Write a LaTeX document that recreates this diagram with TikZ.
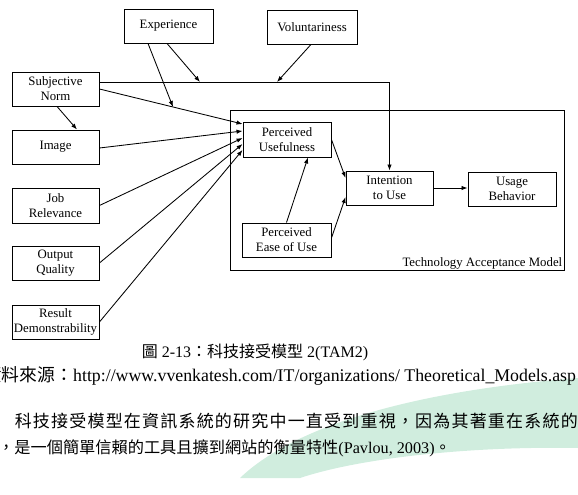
\documentclass[tikz,border=0pt]{standalone}
\usepackage{fontspec}
\setmainfont{Liberation Serif}
\newfontfamily\cjk{Noto Sans CJK TC}
\usetikzlibrary{arrows.meta}
\definecolor{wmgreen}{RGB}{208,237,222}
\newdimen\cwd
\def\charrow#1{\cjk\spl#1\relax}
\def\spl#1{\ifx\relax#1\else\hbox to \cwd{\hss#1\hss}\expandafter\spl\fi}
\begin{document}
\begin{tikzpicture}[x=1pt,y=-1pt,
  box/.style={draw,line width=0.9pt,align=center,inner sep=0pt,
    font=\fontsize{12.8}{15}\selectfont},
  arr/.style={line width=0.85pt,-{Latex[length=6pt,width=4.4pt]}},
  ln/.style={line width=0.85pt},
  txt/.style={inner sep=0pt,font=\fontsize{17}{20}\selectfont}]
\useasboundingbox (0,0) rectangle (578,495);
% watermark swoosh
\fill[wmgreen] (240,478) .. controls (290,430) and (400,392) .. (578,378)
  -- (578,448) .. controls (470,446) and (360,458) .. (300,478) -- cycle;
% boxes
\node[box,minimum width=89pt,minimum height=34pt] (exp) at (168.5,26) {Experience};
\node[box,minimum width=90pt,minimum height=34pt] (vol) at (312,27) {Voluntariness};
\node[box,minimum width=87pt,minimum height=34pt] (sn) at (55.5,89) {Subjective\\Norm};
\node[box,minimum width=87pt,minimum height=34pt] (img) at (55.5,147) {Image};
\node[box,minimum width=87pt,minimum height=35pt] (jr) at (55.5,205.5) {Job\\Relevance};
\node[box,minimum width=87pt,minimum height=34pt] (oq) at (55.5,263) {Output\\Quality};
\node[box,minimum width=87pt,minimum height=34pt] (rd) at (55.5,322) {Result\\Demonstrability};
\node[draw,line width=0.9pt,minimum width=334pt,minimum height=160pt,inner sep=0pt] (tam) at (397,190) {};
\node[box,minimum width=88pt,minimum height=35pt] (pu) at (287,139.5) {Perceived\\Usefulness};
\node[box,minimum width=87pt,minimum height=34pt] (itu) at (389.5,188) {Intention\\to Use};
\node[box,minimum width=88pt,minimum height=34pt] (ub) at (512,189) {Usage\\Behavior};
\node[box,minimum width=89pt,minimum height=34pt] (peou) at (286.5,240) {Perceived\\Ease of Use};
\node[inner sep=0pt,anchor=base east,font=\fontsize{12.8}{15}\selectfont] (tamlbl) at ([xshift=-2pt,yshift=4pt]tam.south east) {Technology Acceptance Model};
% connectors
\coordinate (hl) at ([yshift=7pt]sn.east);
\coordinate (hr) at (hl -| itu.north);
\draw[ln] (hl) -- (hr);
\draw[arr] (hr) -- (itu.north);
\coordinate (e1) at (200,82);
\coordinate (v1) at (277,82);
\draw[arr] ([xshift=-1.5pt]exp.south) -- (e1);
\draw[arr] ([xshift=-1pt]vol.south) -- (v1);
\coordinate (p1) at ([yshift=15.5pt]pu.west);
\coordinate (p2) at ([yshift=8.5pt]pu.west);
\coordinate (p3) at ([yshift=1.5pt]pu.west);
\coordinate (p4) at ([yshift=-4.5pt]pu.west);
\coordinate (p5) at ([yshift=-10.5pt]pu.west);
\draw[arr] (sn.east) -- (p1) coordinate[pos=0.514] (e2);
\draw[arr] ([xshift=-20.5pt]exp.south) -- (e2);
\draw[arr] ([yshift=-1pt]img.east) -- (p2);
\draw[arr] (jr.east) -- (p3);
\draw[arr] (oq.east) -- (p4);
\draw[arr] (rd.east) -- (p5);
\draw[arr] ([xshift=1.5pt]sn.south) -- ([xshift=21.5pt]img.north);
\draw[arr] (pu.east) -- ([yshift=10pt]itu.west);
\draw[arr] ([yshift=2pt]peou.east) -- ([yshift=-9pt]itu.west);
\draw[arr] (peou.north) -- ([xshift=21pt]pu.south);
\draw[arr] (itu.east) -- (itu.east -| ub.west);
% texts
\node[txt,font=\fontsize{16}{20}\selectfont] (cap) at (255,352) {{\cjk 圖} 2-13{\cjk ：科技接受模型} 2(TAM2)};
\node[txt,anchor=base west,font=\fontsize{17.8}{20}\selectfont] (src) at (-16,381) {{\cjk 資料來源：}http://www.vvenkatesh.com/IT/organizations/ Theoretical\_Models.asp};
\cwd=18.2pt
\node[txt,anchor=base west] (par1) at (14,427) {\charrow{科技接受模型在資訊系統的研究中一直受到重視，因為其著重在系統的}};
\node[txt,anchor=base west,font=\fontsize{16.2}{20}\selectfont] (par2) at (-2,453) {{\cjk ，是一個簡單信賴的工具且擴到網站的衡量特性}(Pavlou, 2003){\cjk 。}};
\end{tikzpicture}
\end{document}
